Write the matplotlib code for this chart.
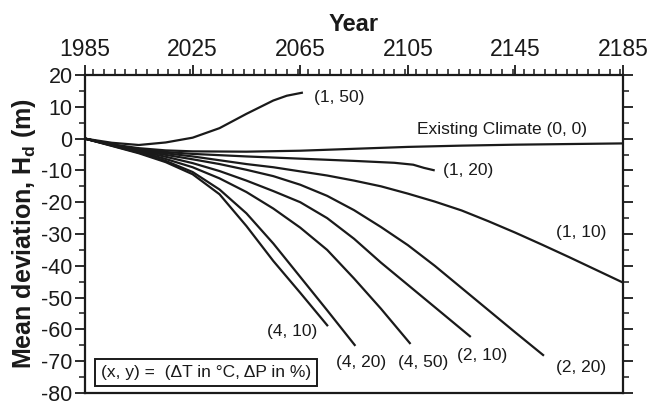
"""Mean surface deviation H_d under different climate scenarios (dT, dP), 1985-2185."""
import matplotlib
matplotlib.use("Agg")
import matplotlib.pyplot as plt
from matplotlib.ticker import MultipleLocator

plt.rcParams["font.family"] = ["Liberation Sans", "DejaVu Sans"]
plt.rcParams["axes.unicode_minus"] = False
plt.rcParams["mathtext.fontset"] = "custom"
plt.rcParams["mathtext.rm"] = "Liberation Sans"
plt.rcParams["mathtext.bf"] = "Liberation Sans:bold"

# values (year, metres)
yr_00 = [1985, 1995, 2005, 2015, 2025, 2045, 2065, 2085, 2105, 2125, 2145, 2165, 2185]
hd_00 = [0, -1.8, -3.0, -3.7, -4.0, -4.1, -3.8, -3.2, -2.6, -2.2, -1.9, -1.7, -1.5]

yr_150 = [1985, 1995, 2005, 2015, 2025, 2035, 2045, 2055, 2060, 2066]
hd_150 = [0, -1.3, -2.0, -1.2, 0.3, 3.3, 7.8, 12.0, 13.5, 14.5]

yr_120 = [1985, 1995, 2005, 2015, 2025, 2045, 2065, 2085, 2100, 2107, 2111, 2115]
hd_120 = [0, -1.9, -3.3, -4.2, -4.8, -5.6, -6.3, -7.0, -7.6, -8.2, -9.2, -10.0]

yr_110 = [1985, 1995, 2005, 2015, 2025, 2035, 2045, 2055, 2065, 2075, 2085,
          2095, 2105, 2115, 2125, 2135, 2145, 2155, 2165, 2175, 2185]
hd_110 = [0, -1.9, -3.5, -4.6, -5.6, -6.8, -8.0, -9.0, -10.3, -11.6, -13.2,
          -15.0, -17.3, -19.8, -22.6, -26.0, -29.6, -33.4, -37.3, -41.3, -45.3]

yr_220 = [1985, 1995, 2005, 2015, 2025, 2035, 2045, 2055, 2065, 2075, 2085,
          2095, 2105, 2115, 2125, 2135, 2145, 2155.6]
hd_220 = [0, -2.0, -3.7, -5.1, -6.5, -8.0, -9.8, -11.8, -14.5, -18.0, -22.5,
          -27.8, -33.5, -40.0, -47.0, -54.0, -61.0, -68.3]

yr_210 = [1985, 1995, 2005, 2015, 2025, 2035, 2045, 2055, 2065, 2075, 2085,
          2095, 2105, 2115, 2128.4]
hd_210 = [0, -2.0, -3.9, -5.7, -7.7, -10.2, -13.2, -16.5, -20.0, -25.0, -31.5,
          -39.0, -46.0, -53.0, -62.4]

yr_450 = [1985, 1995, 2005, 2015, 2025, 2035, 2045, 2055, 2065, 2075, 2085, 2095, 2106]
hd_450 = [0, -2.1, -4.1, -6.4, -9.0, -12.5, -16.8, -22.0, -28.0, -35.0, -44.0, -53.5, -64.6]

yr_420 = [1985, 1995, 2005, 2015, 2025, 2035, 2045, 2055, 2065, 2075, 2085.5]
hd_420 = [0, -2.2, -4.4, -7.0, -10.5, -16.0, -23.5, -33.0, -43.5, -54.0, -65.2]

yr_410 = [1985, 1995, 2005, 2015, 2025, 2035, 2045, 2055, 2065, 2075.3]
hd_410 = [0, -2.3, -4.6, -7.4, -11.2, -17.5, -27.5, -38.5, -48.5, -59.0]

curves = [(yr_00, hd_00), (yr_150, hd_150), (yr_120, hd_120), (yr_110, hd_110),
          (yr_220, hd_220), (yr_210, hd_210), (yr_450, hd_450), (yr_420, hd_420),
          (yr_410, hd_410)]

# curve labels: text, year, value, alignment
labels = [("Existing Climate (0, 0)", 2140, 3.0, "center"),
          ("(1, 50)", 2070, 13.0, "left"),
          ("(1, 20)", 2118, -10.1, "left"),
          ("(1, 10)", 2169.5, -29.5, "center"),
          ("(2, 20)", 2169.5, -72.0, "center"),
          ("(2, 10)", 2132.5, -68.3, "center"),
          ("(4, 50)", 2110.5, -70.4, "center"),
          ("(4, 20)", 2087.5, -70.4, "center"),
          ("(4, 10)", 2062, -60.7, "center")]

INK = "#1a1a1a"

fig = plt.figure(figsize=(6.49, 4.08), dpi=100)
ax = fig.add_axes([0.131, 0.037, 0.829, 0.779])

for yr, hd in curves:
    ax.plot(yr, hd, color=INK, lw=1.6, solid_capstyle="butt")

for txt, x, y, ha in labels:
    ax.text(x, y, txt, ha=ha, va="center", fontsize=12.5, color=INK)

ax.text(1991, -73.5, "(x, y) =  (\u0394T in \u00b0C, \u0394P in %)", ha="left", va="center",
        fontsize=12.5, color=INK,
        bbox=dict(boxstyle="square,pad=0.35", fc="white", ec=INK, lw=1.4))

ax.set_xlim(1985, 2185)
ax.set_ylim(-80, 20)
ax.xaxis.tick_top()
ax.xaxis.set_label_position("top")
ax.set_xticks([1985, 2025, 2065, 2105, 2145, 2185])
ax.xaxis.set_minor_locator(MultipleLocator(4))
ax.yaxis.set_major_locator(MultipleLocator(10))
ax.yaxis.set_minor_locator(MultipleLocator(5))
ax.tick_params(axis="x", which="both", top=True, bottom=False, direction="out",
               colors=INK, labelsize=16.5, pad=3)
ax.tick_params(axis="y", which="both", left=True, right=True, direction="out",
               colors=INK, labelsize=15.5, pad=2)
ax.tick_params(which="major", length=7, width=1.3)
ax.tick_params(which="minor", length=4, width=1.1)
for s in ax.spines.values():
    s.set_linewidth(1.6)
    s.set_color(INK)

ax.set_xlabel("Year", fontsize=17, fontweight="bold", color=INK, labelpad=5)
ax.set_ylabel("Mean deviation, $\\mathbf{H_d}$ (m)", fontsize=18, fontweight="bold",
              color=INK, labelpad=2)

fig.savefig("out.png", dpi=100)
